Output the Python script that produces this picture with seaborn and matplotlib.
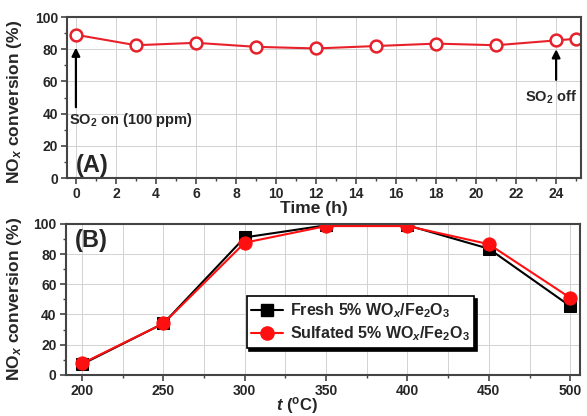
import matplotlib
matplotlib.use("Agg")
import matplotlib.pyplot as plt
from matplotlib.ticker import MultipleLocator
from matplotlib.lines import Line2D
import seaborn as sns
import pandas as pd

# ---- data ----
time_h = [0, 3, 6, 9, 12, 15, 18, 21, 24, 25]
nox_time = [89, 82.5, 84, 81.5, 80.5, 82, 83.5, 82.5, 85.5, 86.5]

temp_c = [200, 250, 300, 350, 400, 450, 500]
fresh = [7, 34, 91, 99, 99, 83.5, 45.5]
sulfated = [7.5, 34, 87.5, 98.5, 98.5, 86.5, 51]

label_fresh = r"Fresh 5% WO$_x$/Fe$_2$O$_3$"
label_sulf = r"Sulfated 5% WO$_x$/Fe$_2$O$_3$"

sns.set_style("ticks")
plt.rcParams["font.family"] = ["Liberation Sans", "DejaVu Sans"]
plt.rcParams["font.weight"] = "bold"
plt.rcParams["axes.labelweight"] = "bold"
plt.rcParams["mathtext.fontset"] = "custom"
plt.rcParams["mathtext.rm"] = "Liberation Sans:bold"
plt.rcParams["mathtext.it"] = "Liberation Sans:italic:bold"
plt.rcParams["mathtext.bf"] = "Liberation Sans:bold"

fig = plt.figure(figsize=(5.87, 4.16), dpi=100)
axA = fig.add_axes([0.114, 0.572, 0.876, 0.387])
axB = fig.add_axes([0.112, 0.099, 0.876, 0.363])

spine_c = "#444444"
grid_c = "#d2d2d2"

def style(ax):
    for s in ax.spines.values():
        s.set_linewidth(1.5)
        s.set_color(spine_c)
    ax.tick_params(which="major", direction="out", length=4, width=1.2,
                   color=spine_c, labelsize=10, pad=2.5)
    ax.tick_params(which="minor", direction="out", length=2.5, width=1.0,
                   color=spine_c)
    for lbl in ax.get_xticklabels() + ax.get_yticklabels():
        lbl.set_fontweight("bold")
    ax.set_axisbelow(True)

# ---- panel A ----
dfA = pd.DataFrame({"t": time_h, "nox": nox_time})
sns.lineplot(data=dfA, x="t", y="nox", ax=axA, color="#e8202a", lw=1.5,
             marker="o", markersize=8.5, markerfacecolor="white",
             markeredgecolor="#e8202a", markeredgewidth=1.8)
axA.set_xlim(-0.45, 25.25)
axA.set_ylim(0, 100)
axA.xaxis.set_major_locator(MultipleLocator(2))
axA.xaxis.set_minor_locator(MultipleLocator(1))
axA.yaxis.set_major_locator(MultipleLocator(20))
axA.yaxis.set_minor_locator(MultipleLocator(10))
axA.grid(True, which="major", color=grid_c, lw=0.7)
axA.set_xlabel("Time (h)", fontsize=12.5, fontweight="bold")
axA.xaxis.set_label_coords(0.48, -0.145)
axA.set_ylabel(r"NO$_x$ conversion (%)", fontsize=12.5, fontweight="bold")
axA.yaxis.set_label_coords(-0.083, 0.47)
style(axA)
axA.text(0.0, 8, "(A)", fontsize=17, fontweight="bold", va="center", ha="left")
axA.annotate("", xy=(0, 81), xytext=(0, 44),
             arrowprops=dict(arrowstyle="-|>", color="black", lw=1.6,
                             mutation_scale=12, shrinkA=0, shrinkB=0))
axA.text(-0.35, 36, r"SO$_2$ on (100 ppm)", fontsize=10.5, fontweight="bold",
         va="center", ha="left")
axA.annotate("", xy=(24, 80), xytext=(24, 61),
             arrowprops=dict(arrowstyle="-|>", color="black", lw=1.6,
                             mutation_scale=12, shrinkA=0, shrinkB=0))
axA.text(25.05, 50, r"SO$_2$ off", fontsize=10.5, fontweight="bold",
         va="center", ha="right")

# ---- panel B ----
sns.lineplot(x=temp_c, y=fresh, ax=axB, color="black", lw=1.5,
             marker="s", markersize=8, markeredgecolor="black",
             markerfacecolor="black", label=label_fresh, legend=False)
sns.lineplot(x=temp_c, y=sulfated, ax=axB, color="#ff1010", lw=1.5,
             marker="o", markersize=9.5, markeredgecolor="#ff1010",
             markerfacecolor="#ff1010", label=label_sulf, legend=False)
axB.set_xlim(190, 506)
axB.set_ylim(0, 100)
axB.xaxis.set_major_locator(MultipleLocator(50))
axB.xaxis.set_minor_locator(MultipleLocator(25))
axB.yaxis.set_major_locator(MultipleLocator(20))
axB.yaxis.set_minor_locator(MultipleLocator(10))
axB.grid(True, which="major", color=grid_c, lw=0.7)
axB.grid(True, which="minor", axis="x", color=grid_c, lw=0.7)
axB.set_xlabel(r"$t$ ($^{\rm o}$C)", fontsize=12, fontweight="bold")
axB.xaxis.set_label_coords(0.45, -0.135)
axB.set_ylabel(r"NO$_x$ conversion (%)", fontsize=12.5, fontweight="bold")
axB.yaxis.set_label_coords(-0.081, 0.5)
style(axB)
axB.text(195.5, 89, "(B)", fontsize=17, fontweight="bold", va="center", ha="left")

handles = [
    Line2D([], [], color="black", lw=1.5, marker="s", markersize=8,
           markerfacecolor="black", markeredgecolor="black"),
    Line2D([], [], color="#ff1010", lw=1.5, marker="o", markersize=9.5,
           markerfacecolor="#ff1010", markeredgecolor="#ff1010"),
]
leg = axB.legend(handles, [label_fresh, label_sulf], loc="lower left",
                 bbox_to_anchor=(0.42, 0.163), bbox_transform=fig.transFigure,
                 frameon=True, fancybox=False, shadow={"color": "black", "alpha": 1},
                 prop={"weight": "bold", "size": 11.5}, borderpad=0.3,
                 handlelength=2.0, handletextpad=0.4, labelspacing=0.3,
                 borderaxespad=0)
leg.get_frame().set_edgecolor("black")
leg.get_frame().set_linewidth(1.2)
leg.get_frame().set_alpha(1)

fig.savefig("out.png", dpi=100)
